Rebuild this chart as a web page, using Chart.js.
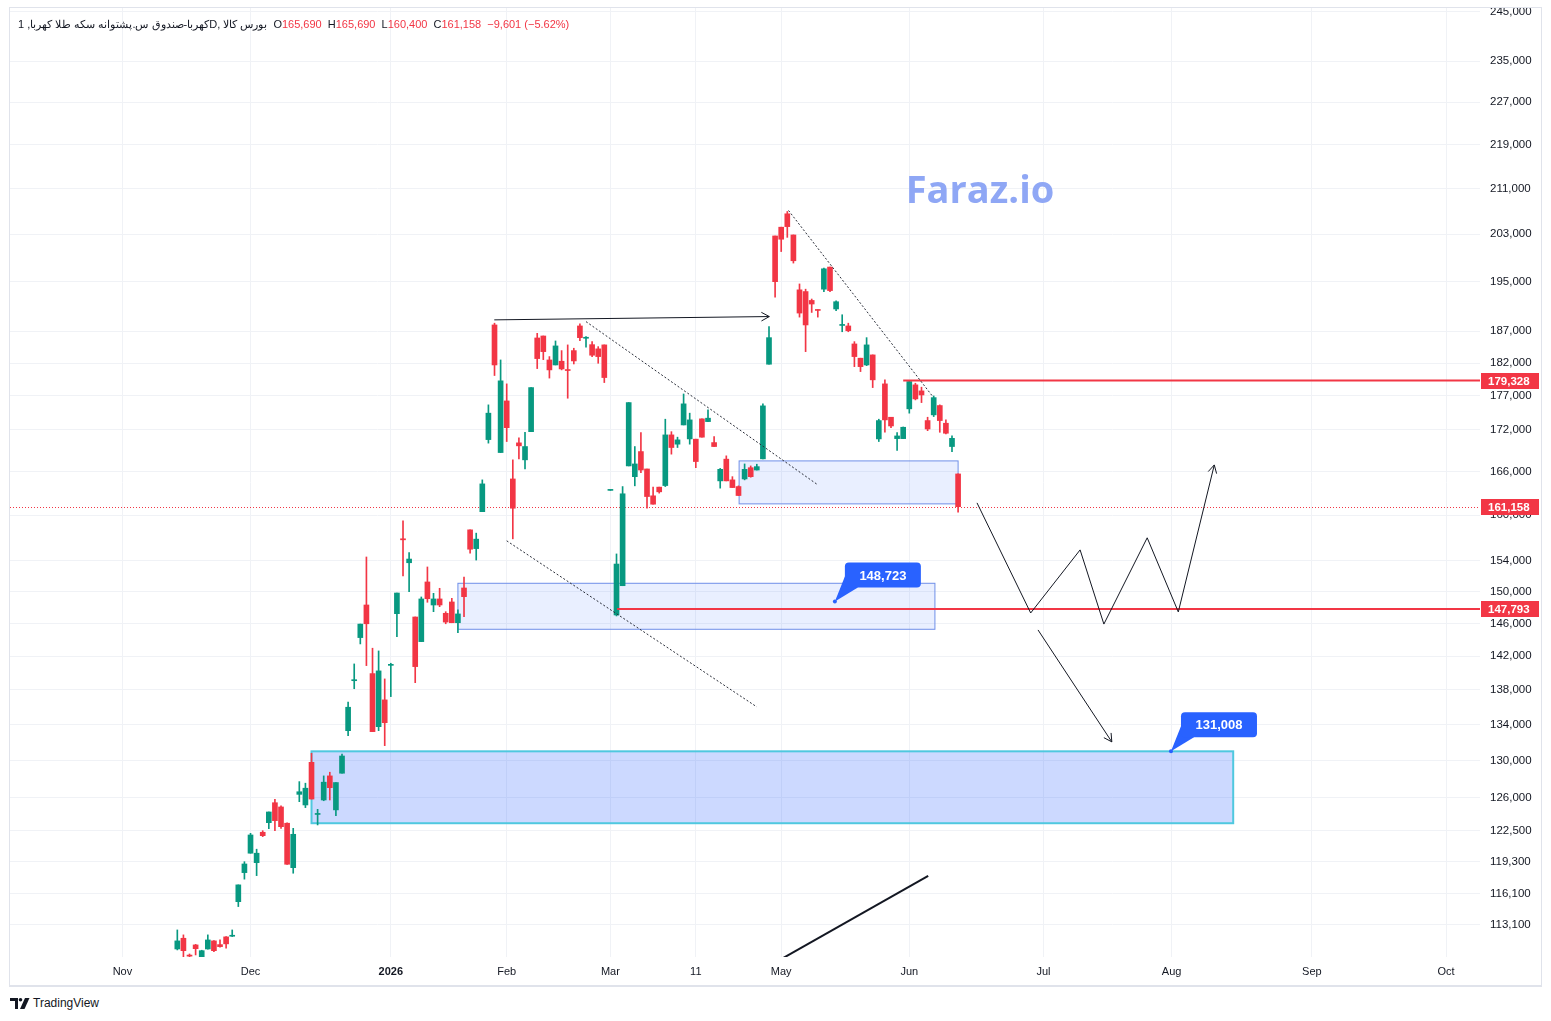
<!DOCTYPE html>
<html lang="fa">
<head>
<meta charset="UTF-8">
<title>کهربا - 1D</title>
<script src="https://cdn.jsdelivr.net/npm/chart.js"></script>
<style>
    body {
        margin: 0;
        background: #fff;
        font-family: "Liberation Sans", Arial, sans-serif;
    }
    #frame {
        position: absolute;
        left: 9px;
        top: 7px;
        width: 1531px;
        height: 977px;
        border: 1px solid #e0e3eb;
        border-bottom: 2px solid #e0e3eb;
    }
    #chart { display: block; }
    #header {
        position: absolute;
        left: 18px;
        top: 18px;
        font-size: 11px;
        color: #131722;
        white-space: nowrap;
        direction: ltr;
    }
    #header .v { color: #f23645; }
    #header .gap { margin-left: 3px; }
    #footer {
        position: absolute;
        left: 10px;
        top: 996px;
        font-size: 12px;
        color: #131722;
        display: flex;
        align-items: center;
        gap: 3px;
    }
</style>
</head>
<body>

<div id="frame"><canvas id="chart" width="1531" height="977"></canvas></div>

<div id="header" dir="ltr">کهربا-صندوق س.پشتوانه سکه طلا کهربا, 1D, بورس کالا <span class="gap">O</span><span class="v">165,690</span> <span class="gap">H</span><span class="v">165,690</span> <span class="gap">L</span><span class="v">160,400</span> <span class="gap">C</span><span class="v">161,158</span> <span class="v gap">−9,601 (−5.62%)</span></div>

<div id="footer">
    <svg width="20" height="11" viewBox="0 0 20 11"><path d="M0 0h8v11H5V3H0z" fill="#131722"/><circle cx="10.5" cy="1.8" r="1.8" fill="#131722"/><path d="M15 0h4.5l-5 11h-4.5z" fill="#131722"/></svg>
    <span>TradingView</span>
</div>

<script>
    // daily candles, bar index 0 = first visible session (mid Nov)
    const opens = [110820, 111830, 110250, 111200, 110050, 110820, 111580, 111230, 111960, 112020,
        115350, 118220, 120180, 119220, 122330, 123330, 125430, 124980, 123270, 118720,
        126320, 125190, 129790, 124190, 125720, 128310, 124670, 128600, 133320, 139080,
        144250, 148290, 139920, 133770, 136840, 140900, 147200, 156840, 153690, 146790,
        143760, 151210, 148290, 149050, 147250, 148670, 146080, 150440, 158030, 155540,
        160480, 170580, 187970, 168720, 176260, 164990, 170110, 167680, 171730, 185910,
        186220, 182480, 181710, 182280, 180950, 183930, 187810, 185860, 184860, 184200,
        184820, 163400, 147040, 150730, 166820, 165310, 168860, 166390, 162650, 163850,
        164070, 171260, 169920, 172710, 170680, 170640, 173600, 173200, 170150, 164720,
        167780, 164860, 163930, 164990, 166570, 166240, 167820, 181820, 202680, 204190,
        206520, 202850, 193640, 193360, 191910, 190400, 193750, 197410, 190530, 187890,
        187810, 184970, 182750, 181710, 183260, 170680, 178820, 173840, 170720, 170720,
        175080, 178670, 177760, 173350, 174190, 175570, 172960, 169580, 165690];
    const highs = [112620, 112150, 110350, 111250, 110700, 112150, 111600, 111670, 111980, 112620,
        117000, 119320, 122220, 120590, 122490, 124450, 125790, 125090, 123300, 122740,
        127690, 127520, 130790, 124730, 128310, 128710, 127590, 130710, 136600, 141070,
        145910, 154440, 142960, 142630, 139290, 141150, 149800, 159230, 155010, 146790,
        149300, 153140, 149760, 150400, 147450, 149130, 147670, 151850, 158030, 157590,
        164860, 175670, 188250, 182480, 178820, 167680, 170830, 171640, 178260, 186640,
        186220, 183000, 185440, 183930, 184820, 184300, 188130, 186110, 185330, 184550,
        184820, 163450, 154840, 163930, 176010, 169580, 171580, 166390, 163850, 163850,
        173550, 171730, 170930, 177300, 174440, 170640, 173600, 174930, 171010, 166470,
        168250, 165310, 164030, 167100, 166820, 167060, 175820, 187700, 202680, 204190,
        206920, 202850, 194610, 193750, 192140, 190400, 197240, 197410, 191860, 189600,
        188250, 185330, 182750, 185960, 183260, 173550, 179430, 173840, 171580, 172410,
        179330, 178920, 178320, 173840, 177000, 175670, 173450, 171110, 165690];
    const lows = [110730, 110040, 110000, 110260, 109980, 110800, 110570, 110980, 110890, 111990,
        114870, 117570, 120180, 117920, 121880, 122700, 122490, 122740, 119050, 118160,
        125540, 124910, 125820, 123090, 125640, 125720, 124070, 128600, 132760, 138140,
        143480, 140870, 133210, 133320, 131640, 137220, 144370, 151980, 149960, 138850,
        143760, 148630, 147450, 148080, 145950, 146080, 144860, 146830, 154930, 154040,
        160480, 170070, 180090, 168720, 170300, 156830, 167820, 166390, 171730, 181150,
        182530, 179700, 181710, 180950, 176660, 181860, 185490, 184460, 183000, 181970,
        179020, 163400, 146920, 150730, 166820, 164030, 165860, 160950, 161500, 163020,
        163930, 168490, 169440, 172710, 169920, 166570, 170930, 173200, 169580, 163710,
        164720, 163790, 162690, 164860, 165230, 166240, 167820, 181820, 192460, 200020,
        202440, 198080, 189220, 183770, 189970, 189220, 193360, 193360, 190240, 186890,
        186890, 181450, 180690, 181600, 178260, 170300, 171640, 172310, 169010, 170720,
        174440, 176410, 176010, 171870, 173940, 171640, 171400, 168860, 160400];
    const closes = [111580, 110660, 110150, 110850, 110660, 111670, 110660, 111040, 111300, 112080,
        117000, 119090, 122050, 120180, 121980, 124450, 123540, 122910, 119060, 122120,
        126600, 126980, 125820, 124290, 127630, 127040, 127590, 130490, 135990, 139200,
        145910, 145950, 133210, 140240, 134220, 141010, 149800, 156700, 154170, 140750,
        149050, 149080, 149050, 148290, 146160, 146080, 147170, 149340, 155460, 156790,
        164300, 174440, 181710, 179280, 172310, 160950, 169680, 169580, 178260, 182690,
        183770, 180950, 184660, 181100, 180850, 182330, 185960, 186020, 183210, 183000,
        179780, 163450, 153520, 162930, 176010, 167100, 166240, 162550, 161500, 163200,
        171260, 169440, 170540, 175820, 173450, 167440, 170930, 173700, 169580, 166340,
        164720, 163790, 162690, 166340, 165310, 166720, 175520, 185960, 194980, 202120,
        204290, 198470, 189870, 187970, 191330, 190290, 197120, 193520, 191700, 188050,
        187050, 183000, 181450, 184820, 179430, 173350, 173450, 172560, 171110, 172370,
        179170, 176560, 177150, 172120, 176750, 173350, 171500, 170760, 161158];

    // axes
    const yTicks = [245000, 235000, 227000, 219000, 211000, 203000, 195000, 187000, 182000, 177000,
        172000, 166000, 160000, 154000, 150000, 146000, 142000, 138000, 134000, 130000,
        126000, 122500, 119300, 116100, 113100];
    const monthTickPos = [-9, 12, 35, 54, 71, 85, 99, 120, 142, 163, 186, 208];
    const monthTickLabels = ['Nov', 'Dec', '2026', 'Feb', 'Mar', '11', 'May', 'Jun', 'Jul', 'Aug', 'Sep', 'Oct'];
    const xMin = -27.43, xMax = 213.56;
    const yMin = 110069, yMax = 245831;

    // drawings (bar index, price)
    const lastClose = 161158;
    const levelPrices = [179328, 147793];
    const levelStarts = [119, 72.1];
    const zoneStart = [92.1, 46, 22];
    const zoneEnd = [128, 124.2, 173.1];
    const zoneTop = [167530, 151040, 131008];
    const zoneBottom = [161545, 145270, 123270];
    const calloutX = [107.8, 162.9];
    const calloutPrice = [148723, 131008];
    const topArrowX = [51.96, 97.05];
    const topArrowY = [188780, 189310];
    const trendStartX = [67.0, 54.0, 100.2];
    const trendStartY = [188500, 156570, 207100];
    const trendEndX = [105.0, 95.0, 123.9];
    const trendEndY = [164170, 136030, 176850];
    const zigzagX = [131.1, 139.9, 148.0, 151.9, 159.0, 164.1, 170.0];
    const zigzagY = [161680, 147290, 155370, 145910, 156970, 147420, 166960];
    const dropArrowX = [141.1, 153.2];
    const dropArrowY = [145190, 132060];
    const baseLineX = [97.3, 123.1];
    const baseLineY = [109326, 117895];

    const family = '"Liberation Sans", Arial, sans-serif';
    const UP = '#089981', DOWN = '#f23645';
    const candleColor = i => closes[i] >= opens[i] ? UP : DOWN;

    function seg(ctx, pts) {
        ctx.beginPath();
        pts.forEach((p, k) => k ? ctx.lineTo(p[0], p[1]) : ctx.moveTo(p[0], p[1]));
        ctx.stroke();
    }

    function arrowHead(ctx, from, to, len) {
        const ang = Math.atan2(to[1] - from[1], to[0] - from[0]);
        seg(ctx, [
            [to[0] - len * Math.cos(ang - 0.5), to[1] - len * Math.sin(ang - 0.5)],
            to,
            [to[0] - len * Math.cos(ang + 0.5), to[1] - len * Math.sin(ang + 0.5)]
        ]);
    }

    function callout(ctx, cx, cy, text) {
        const l = cx + 10, t = cy - 39, w = 76, h = 25;
        ctx.fillStyle = '#2962ff';
        ctx.beginPath();
        ctx.moveTo(cx, cy);
        ctx.lineTo(l, t + h - 11);
        ctx.lineTo(l + 13, t + h);
        ctx.closePath();
        ctx.fill();
        ctx.beginPath();
        ctx.roundRect(l, t, w, h, 4);
        ctx.fill();
        ctx.beginPath();
        ctx.arc(cx, cy, 2, 0, Math.PI * 2);
        ctx.fill();
        ctx.fillStyle = '#fff';
        ctx.font = 'bold 13px ' + family;
        ctx.textAlign = 'center';
        ctx.textBaseline = 'middle';
        ctx.fillText(text, l + w / 2, t + h / 2 + 1);
    }

    const drawings = {
        id: 'drawings',
        beforeDatasetsDraw(chart) {
            const {ctx, chartArea: a, scales: {x, y}} = chart;
            ctx.save();
            ctx.beginPath();
            ctx.rect(a.left, a.top, a.width, a.height);
            ctx.clip();

            // watermark
            ctx.fillStyle = '#8fa7f5';
            ctx.font = 'bold 38px "Open Sans", sans-serif';
            ctx.textAlign = 'center';
            ctx.textBaseline = 'middle';
            ctx.fillText('Faraz.io', 970, 184);

            // zones
            for (let k = 0; k < zoneStart.length; k++) {
                const x0 = x.getPixelForValue(zoneStart[k]), x1 = x.getPixelForValue(zoneEnd[k]);
                const y0 = y.getPixelForValue(zoneTop[k]), y1 = y.getPixelForValue(zoneBottom[k]);
                const strong = k === 2;
                ctx.fillStyle = strong ? 'rgba(41,98,255,0.24)' : 'rgba(41,98,255,0.1)';
                ctx.fillRect(x0, y0, x1 - x0, y1 - y0);
                ctx.strokeStyle = strong ? '#4fc8df' : '#6f8fe8';
                ctx.lineWidth = strong ? 2 : 1;
                ctx.strokeRect(x0, y0, x1 - x0, y1 - y0);
            }

            // last price dotted line
            const ly = Math.round(y.getPixelForValue(lastClose)) + 0.5;
            ctx.strokeStyle = DOWN;
            ctx.lineWidth = 1;
            ctx.setLineDash([1, 2]);
            seg(ctx, [[a.left, ly], [a.right, ly]]);
            ctx.setLineDash([]);
            ctx.restore();
        },
        afterDatasetsDraw(chart) {
            const {ctx, chartArea: a, scales: {x, y}} = chart;
            const P = (i, p) => [x.getPixelForValue(i), y.getPixelForValue(p)];
            ctx.save();
            ctx.beginPath();
            ctx.rect(a.left, a.top, a.width, a.height);
            ctx.clip();

            // horizontal levels
            ctx.strokeStyle = DOWN;
            ctx.lineWidth = 2;
            levelPrices.forEach((p, k) => seg(ctx, [P(levelStarts[k], p), [a.right, y.getPixelForValue(p)]]));

            // dotted trend lines
            ctx.strokeStyle = '#2a2e39';
            ctx.lineWidth = 1;
            ctx.setLineDash([2, 2]);
            trendStartX.forEach((sx, k) =>
                seg(ctx, [P(sx, trendStartY[k]), P(trendEndX[k], trendEndY[k])]));
            ctx.setLineDash([]);

            // top arrow
            ctx.strokeStyle = '#131722';
            const t0 = P(topArrowX[0], topArrowY[0]), t1 = P(topArrowX[1], topArrowY[1]);
            seg(ctx, [t0, t1]);
            arrowHead(ctx, t0, t1, 9);

            // projected zigzag
            const zz = zigzagX.map((zx, k) => P(zx, zigzagY[k]));
            seg(ctx, zz);
            arrowHead(ctx, zz[zz.length - 2], zz[zz.length - 1], 9);

            // drop arrow
            const d0 = P(dropArrowX[0], dropArrowY[0]), d1 = P(dropArrowX[1], dropArrowY[1]);
            seg(ctx, [d0, d1]);
            arrowHead(ctx, d0, d1, 9);

            // base line
            ctx.lineWidth = 2;
            seg(ctx, [P(baseLineX[0], baseLineY[0]), P(baseLineX[1], baseLineY[1])]);

            // callouts
            calloutX.forEach((cx, k) => {
                const pt = P(cx, calloutPrice[k]);
                callout(ctx, pt[0], pt[1], calloutPrice[k].toLocaleString('en-US'));
            });
            ctx.restore();
        },
        afterDraw(chart) {
            const {ctx, chartArea: a, scales: {y}} = chart;
            ctx.save();
            [levelPrices[0], lastClose, levelPrices[1]].forEach(p => {
                const yy = Math.round(y.getPixelForValue(p));
                ctx.fillStyle = DOWN;
                ctx.fillRect(a.right + 1, yy - 8, 58, 16);
                ctx.fillStyle = '#fff';
                ctx.font = 'bold 11.5px ' + family;
                ctx.textAlign = 'left';
                ctx.textBaseline = 'middle';
                ctx.fillText(p.toLocaleString('en-US'), a.right + 8, yy + 0.5);
            });
            ctx.restore();
        }
    };

    const wickData = highs.map((h, i) => ({x: i, y: [lows[i], h]}));
    const bodyData = opens.map((o, i) => ({x: i, y: [o, closes[i]]}));

    new Chart(document.getElementById('chart'), {
        type: 'bar',
        data: {
            datasets: [{
                data: wickData,
                barThickness: 1,
                grouped: false,
                clip: 0,
                backgroundColor: ctx => candleColor(ctx.dataIndex)
            }, {
                data: bodyData,
                barThickness: 5,
                minBarLength: 1,
                grouped: false,
                clip: 0,
                backgroundColor: ctx => candleColor(ctx.dataIndex)
            }]
        },
        options: {
            responsive: false,
            animation: false,
            devicePixelRatio: 1,
            layout: { padding: 0 },
            events: [],
            plugins: {
                legend: { display: false },
                tooltip: { enabled: false }
            },
            scales: {
                x: {
                    type: 'linear',
                    min: xMin,
                    max: xMax,
                    offset: false,
                    grid: { color: '#f0f2f6', drawTicks: false, offset: false },
                    border: { display: false },
                    afterBuildTicks: s => { s.ticks = monthTickPos.map(v => ({value: v})); },
                    afterFit: s => { s.height = 28; s.paddingLeft = 0; s.paddingRight = 0; },
                    ticks: {
                        autoSkip: false,
                        maxRotation: 0,
                        padding: 8,
                        color: '#131722',
                        font: c => ({
                            family: family,
                            size: 11,
                            weight: monthTickLabels[c.index] === '2026' ? 'bold' : 'normal'
                        }),
                        callback: (v, i) => monthTickLabels[i]
                    }
                },
                y: {
                    type: 'logarithmic',
                    position: 'right',
                    min: yMin,
                    max: yMax,
                    grid: { color: '#f0f2f6', drawTicks: false },
                    border: { display: false },
                    afterBuildTicks: s => { s.ticks = yTicks.map(v => ({value: v})); },
                    afterFit: s => { s.width = 61; s.paddingTop = 0; s.paddingBottom = 0; },
                    ticks: {
                        autoSkip: false,
                        padding: 10,
                        color: '#131722',
                        font: { family: family, size: 11.5 },
                        callback: v => Number(v).toLocaleString('en-US')
                    }
                }
            }
        },
        plugins: [drawings]
    });
</script>
</body>
</html>
